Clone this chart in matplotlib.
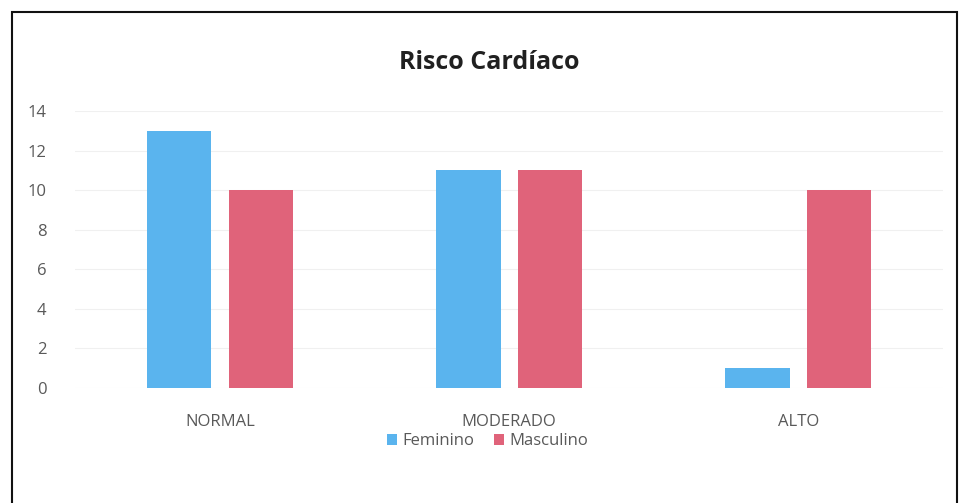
import numpy as np
import matplotlib.pyplot as plt
from matplotlib.patches import Rectangle

categorias = ['NORMAL', 'MODERADO', 'ALTO']
feminino = [13, 11, 1]
masculino = [10, 11, 10]
yticks = [0, 2, 4, 6, 8, 10, 12, 14]

AZUL = '#5AB4EE'
VERMELHO = '#E0637A'
CINZA = '#595959'

plt.rcParams['font.family'] = ['Open Sans', 'DejaVu Sans']

fig = plt.figure(figsize=(9.6, 5.03), dpi=100)
ax = fig.add_axes([0.0786, 0.2286, 0.9034, 0.5507])

x = np.arange(len(categorias))
w = 0.224
gap = 0.059
ax.bar(x - (w + gap) / 2, feminino, w, color=AZUL, label='Feminino', zorder=3)
ax.bar(x + (w + gap) / 2, masculino, w, color=VERMELHO, label='Masculino', zorder=3)

ax.set_xlim(-0.5, 2.5)
ax.set_ylim(0, 14)
ax.set_yticks(yticks)
ax.set_xticks(x)
ax.set_xticklabels(categorias)
ax.grid(axis='y', color='#f0f0f0', linewidth=0.8, zorder=0)
for s in ax.spines.values():
    s.set_visible(False)
ax.tick_params(axis='y', length=0, pad=21, labelsize=12, labelcolor=CINZA)
ax.tick_params(axis='x', length=0, pad=19, labelsize=12, labelcolor=CINZA)

fig.text(0.51, 0.876, 'Risco Cardíaco', ha='center', va='center',
         fontsize=18, fontweight='bold', color='#202020')

fig.legend(loc='center', bbox_to_anchor=(0.508, 0.123), ncol=2, frameon=False,
           fontsize=12, handlelength=0.6, handleheight=0.6, handletextpad=0.3,
           columnspacing=1.2, labelcolor=CINZA)

fig.patches.append(Rectangle((12 / 960, -0.02), (957 - 12) / 960, 1 - 12 / 503 + 0.02,
                             transform=fig.transFigure, fill=False,
                             edgecolor='#111111', linewidth=1.5))

fig.savefig('out.png', dpi=100)
